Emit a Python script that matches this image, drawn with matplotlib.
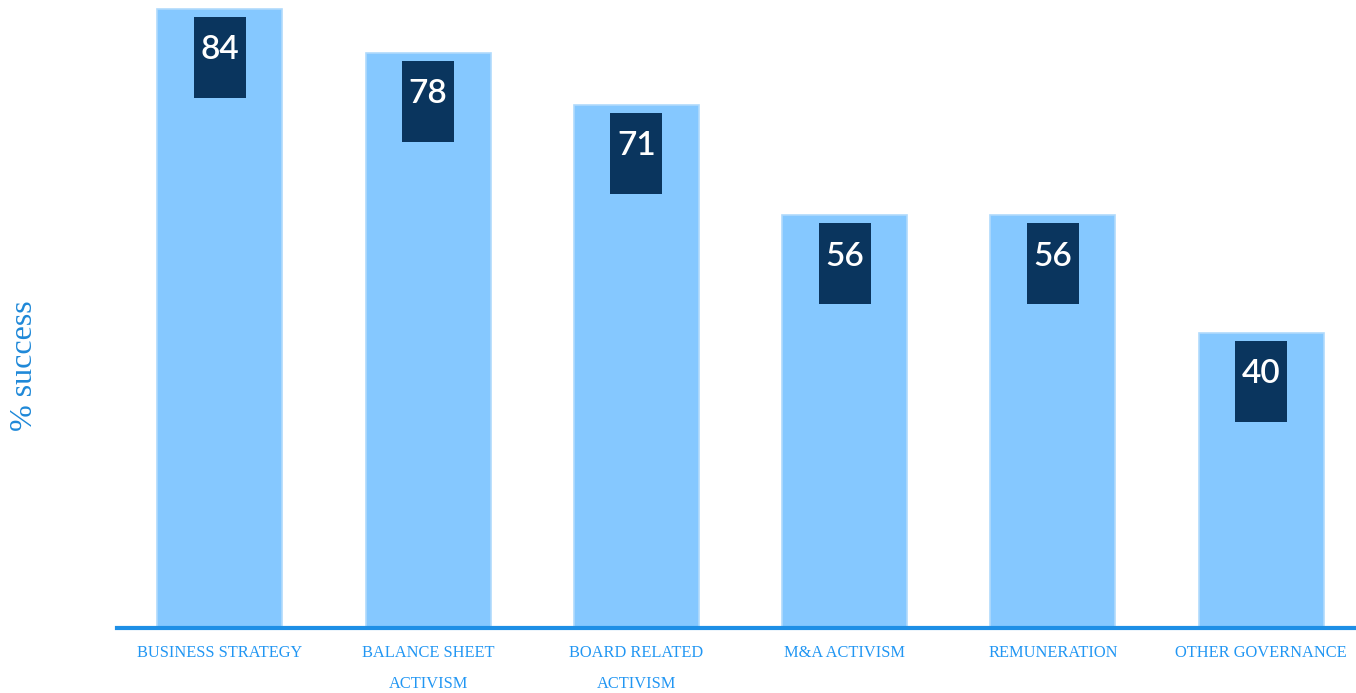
import matplotlib
matplotlib.use("Agg")
import matplotlib.pyplot as plt
from matplotlib.patches import Rectangle

categories = ["BUSINESS STRATEGY", "BALANCE SHEET\nACTIVISM", "BOARD RELATED\nACTIVISM",
              "M&A ACTIVISM", "REMUNERATION", "OTHER GOVERNANCE"]
values = [84, 78, 71, 56, 56, 40]

W, H = 1356, 693
fig = plt.figure(figsize=(W/100, H/100), dpi=100)
ax = fig.add_axes([117/W, (H-628)/H, (W-117)/W, 628/H])

x = list(range(len(values)))
ax.bar(x, values, width=0.6, color="#85C8FF", edgecolor="#B0DAFC", linewidth=1.2, zorder=2)

for xi, v in zip(x, values):
    ax.add_patch(Rectangle((xi-0.125, v-1.1-11.0), 0.25, 11.0, facecolor="#0A355E",
                           edgecolor="none", zorder=3))
    ax.text(xi, v-5.6, str(v), ha="center", va="center", color="white",
            fontsize=24, family="Lato", fontweight="semibold", zorder=4)

ax.set_xlim(-0.494, 5.456)
ax.set_ylim(0, 85.2)
for s in ["top", "right", "left"]:
    ax.spines[s].set_visible(False)
ax.spines["bottom"].set_color("#1E8FE6")
ax.spines["bottom"].set_linewidth(3)
ax.set_yticks([])
ax.set_xticks(x)
ax.set_xticklabels(categories, color="#2196F3", family="Liberation Serif", fontsize=11.8,
                   linespacing=2.25, va="top")
ax.tick_params(axis="x", length=0, pad=12)

fig.text(25/W, 1-366/H, "% success", rotation=90, ha="center", va="center",
         color="#1E88D8", family="Liberation Serif", fontsize=23)

fig.savefig("out.png", dpi=100)
